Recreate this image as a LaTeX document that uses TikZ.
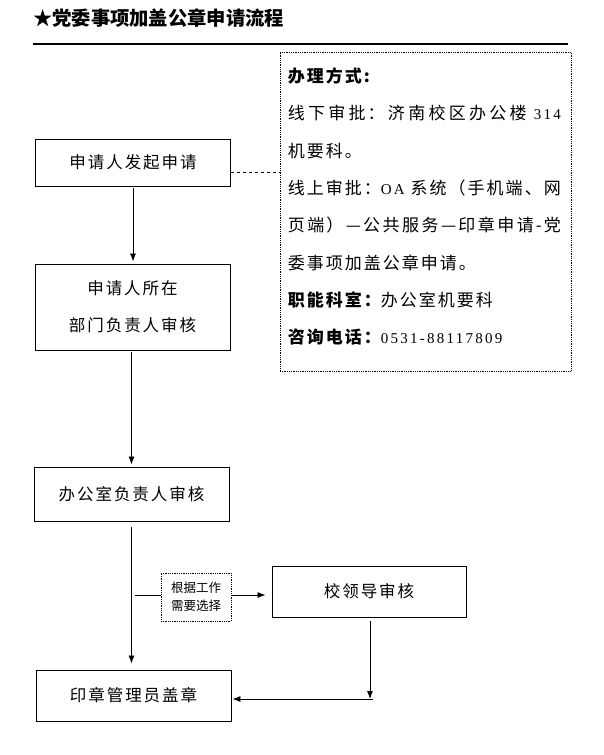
\documentclass[tikz,border=0pt]{standalone}
\usepackage{fontspec}
\usetikzlibrary{arrows.meta}
\newfontfamily\cjk[LetterSpace=12]{Noto Sans CJK SC}
\newfontfamily\cjkhei{Noto Sans CJK SC}
\newfontfamily\lat[LetterSpace=15]{Liberation Serif}
\newcommand\digits[1]{{\lat\fontsize{15}{37.3}\selectfont #1}}
\XeTeXlinebreaklocale "zh"
\XeTeXlinebreakskip=0pt plus 3pt
\begin{document}
\begin{tikzpicture}[x=1pt,y=-1pt,
    stepbox/.style={draw,line width=0.9pt,minimum width=195pt,align=center,
      font=\cjk\fontsize{16.5}{37}\selectfont},
    note/.style={draw,densely dotted,line width=0.8pt},
    arr/.style={line width=0.8pt,-{Latex[length=8pt,width=6pt]}}]
\useasboundingbox (0,0) rectangle (603,755);
% title and rule
\node[anchor=west,inner sep=0pt,font=\cjkhei\bfseries\fontsize{19.3}{21}\selectfont] (title) at (33,18) {★党委事项加盖公章申请流程};
\draw[line width=2.4pt] (33,44) -- (568,44);
% how to apply
\node[note,minimum width=291pt,minimum height=319pt] (info) at (425.5,211.5) {};
\node[anchor=north west,inner sep=0pt,text width=273pt,align=justify,
  font={\cjk\fontsize{17}{37.3}\selectfont\parindent0pt\parskip0pt
    \XeTeXlinebreakskip=2pt plus 3pt minus 2.5pt}] (infotext)
  at ([xshift=8pt,yshift=-16pt]info.north west) {{\bfseries 办理方式:}\par
线下审批：济南校区办公楼 \digits{314}\linebreak 机要科。\par
线上审批：\digits{OA} 系统（手机端、网\linebreak 页端）—公共服务—印章申请-党\linebreak 委事项加盖公章申请。\par
{\bfseries 职能科室：}办公室机要科\par
{\bfseries 咨询电话：}\digits{0531-88117809}};
% steps
\node[stepbox,minimum height=47pt] (apply) at (133,162.5) {申请人发起申请};
\node[stepbox,minimum height=86pt] (dept) at (132.5,307) {申请人所在\\部门负责人审核};
\node[stepbox,minimum height=54pt] (office) at (131.5,494) {办公室负责人审核};
\node[stepbox,minimum width=194pt,minimum height=51pt] (lead) at (369,591.5) {校领导审核};
\node[stepbox,minimum height=51pt] (seal) at (133.5,695.5) {印章管理员盖章};
\node[note,minimum width=70pt,minimum height=48pt,align=center,inner sep=1pt,
  font=\cjkhei\fontsize{12.5}{18}\selectfont] (choice) at (196,597) {根据工作\\需要选择};
% connectors
\draw[dashed,line width=0.8pt] ([yshift=-9.5pt]apply.east) -- ([yshift=-9.5pt]apply.east -| info.west);
\draw[arr,shorten <=2pt,shorten >=2pt] (apply) -- (apply |- dept.north);
\draw[arr,shorten <=2pt,shorten >=2pt] (dept.south -| office) -- (office.north);
\draw[arr,shorten <=6pt,shorten >=6pt] (office.south) -- (office.south |- seal.north);
\coordinate (fork) at (office.south |- 0,595);
\draw[line width=0.8pt] ([xshift=3pt]fork) -- (fork -| choice.west);
\draw[arr,shorten >=6pt] (fork -| choice.east) -- (fork -| lead.west);
\coordinate (turn) at (370,699);
\draw[arr,shorten <=4pt] (lead.south -| turn) -- (turn);
\draw[arr,shorten >=1pt] ([xshift=3pt]turn) -- (turn -| seal.east);
\end{tikzpicture}
\end{document}
